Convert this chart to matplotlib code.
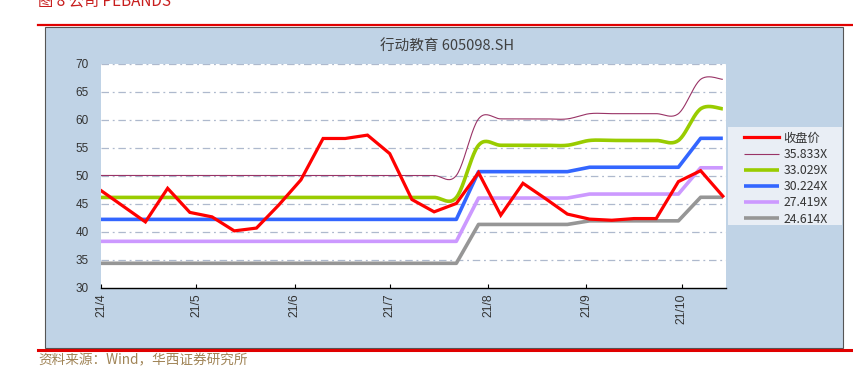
import numpy as np
import pandas as pd
import matplotlib
matplotlib.use("Agg")
import matplotlib.pyplot as plt
import matplotlib.dates as mdates
from matplotlib.patches import Rectangle
from matplotlib.lines import Line2D

# ---------------- data ----------------
start_date = "2021-04-01"
n_weeks = 29
close_price = [47.4, 44.6, 41.8, 47.8, 43.5, 42.7, 40.2, 40.7, 44.8, 49.3,
               56.7, 56.7, 57.3, 54.0, 45.8, 43.6, 45.1, 50.6, 43.0, 48.7,
               46.0, 43.2, 42.3, 42.1, 42.4, 42.4, 49.0, 50.95, 46.4]
eps = [1.398, 1.398, 1.398, 1.398, 1.398, 1.398, 1.398, 1.398, 1.398,
       1.398, 1.398, 1.398, 1.398, 1.398, 1.398, 1.398, 1.398,
       1.680, 1.680, 1.680, 1.680, 1.680,
       1.706, 1.706, 1.706, 1.706, 1.706,
       1.877, 1.877]
multiples = [35.833, 33.029, 30.224, 27.419, 24.614]
band_labels = ["35.833X", "33.029X", "30.224X", "27.419X", "24.614X"]
close_label = "收盘价"
chart_title = "行动教育 605098.SH"
fig_title = "图 8 公司 PEBANDS"
source_text = "资料来源：Wind，华西证券研究所"
tick_months = ["2021-04-01", "2021-05-01", "2021-06-01", "2021-07-01",
               "2021-08-01", "2021-09-01", "2021-10-01"]
tick_labels = ["21/4", "21/5", "21/6", "21/7", "21/8", "21/9", "21/10"]
y_ticks = [30, 35, 40, 45, 50, 55, 60, 65, 70]

# ---------------- styles ----------------
band_colors = ["#993366", "#99CC00", "#3366FF", "#CC99FF", "#969696"]
band_widths = [0.8, 2.6, 2.6, 2.6, 2.6]
band_smooth = [True, True, False, False, False]
CJK = ["Noto Sans CJK SC", "DejaVu Sans"]

dates = pd.date_range(start_date, periods=n_weeks, freq="7D")
xnum = mdates.date2num(dates.to_pydatetime())


def smooth_curve(x, y, n=24):
    P = np.column_stack([x, y]).astype(float)
    out = [P[0]]
    m = len(P)
    t = np.linspace(0, 1, n)[1:, None]
    for i in range(m - 1):
        p0 = P[i - 1] if i > 0 else P[i]
        p1 = P[i]
        p2 = P[i + 1]
        p3 = P[i + 2] if i + 2 < m else P[i + 1]
        c1 = p1 + (p2 - p0) / 6.0
        c2 = p2 - (p3 - p1) / 6.0
        seg = ((1 - t) ** 3) * p1 + 3 * ((1 - t) ** 2) * t * c1 + 3 * (1 - t) * t ** 2 * c2 + t ** 3 * p2
        out.extend(seg)
    out = np.array(out)
    return out[:, 0], out[:, 1]


W, H = 854, 373
fig = plt.figure(figsize=(W / 100, H / 100), dpi=100)
fig.patch.set_facecolor("white")

# panel background
fig.add_artist(Rectangle((45 / W, 1 - 348 / H), (843 - 45) / W, (348 - 27) / H,
                         transform=fig.transFigure, facecolor="#C0D3E6",
                         edgecolor="#555555", linewidth=0.8, zorder=-5))
# legend background
fig.add_artist(Rectangle((728 / W, 1 - 225 / H), (842 - 728) / W, (225 - 127) / H,
                         transform=fig.transFigure, facecolor="#E9EEF5",
                         edgecolor="none", zorder=-3))
# red rules
fig.add_artist(Line2D([38 / W, 1.0], [1 - 25 / H] * 2, transform=fig.transFigure,
                      color="#E00000", linewidth=1.6, zorder=-4))
fig.add_artist(Line2D([38 / W, 1.0], [1 - 349.5 / H] * 2, transform=fig.transFigure,
                      color="#E00000", linewidth=2.2, zorder=-4))

fig.text(38 / W, 1 - 6 / H, fig_title, color="#C81E1E", fontsize=11,
         family=CJK, va="baseline", ha="left")
fig.text(38 / W, 1 - 360 / H, source_text, color="#A08456", fontsize=9.8,
         family=CJK, va="center", ha="left")
fig.text(447 / W, 1 - 47 / H, chart_title, color="#404040", fontsize=10.5,
         family=CJK, va="center", ha="center")

ax = fig.add_axes([101 / W, 1 - 288 / H, (726 - 101) / W, (288 - 64) / H], zorder=2)
ax.set_facecolor("white")

handles = []
for mult, lab, col, lw, sm in zip(multiples, band_labels, band_colors, band_widths, band_smooth):
    vals = np.array(eps) * mult
    if sm:
        xs, ys = smooth_curve(xnum, vals)
    else:
        xs, ys = xnum, vals
    ln, = ax.plot(xs, ys, color=col, linewidth=lw, solid_capstyle="butt", zorder=3, label=lab)
    handles.append(ln)

red, = ax.plot(xnum, close_price, color="#FF0000", linewidth=2.3, zorder=5,
               solid_joinstyle="miter", label=close_label)

ax.set_ylim(30, 70)
ax.set_xlim(mdates.date2num(pd.Timestamp("2021-04-01")), mdates.date2num(pd.Timestamp("2021-10-15")))
ax.set_yticks(y_ticks)
ax.set_yticklabels([str(v) for v in y_ticks], family="Liberation Sans", fontsize=8.5, color="#333333")
ax.set_xticks(mdates.date2num(pd.to_datetime(tick_months).to_pydatetime()))
ax.set_xticklabels(tick_labels, rotation=90, family="Liberation Sans", fontsize=8.8, color="#333333")
ax.tick_params(axis="x", direction="in", length=3, width=0.8, pad=4)
ax.tick_params(axis="y", length=0, pad=9)

for v in y_ticks[1:]:
    ax.axhline(v, color="#AEB9CD", linewidth=0.9, linestyle=(0, (6, 3, 1.5, 3)), zorder=1)

for s in ["left", "right", "top"]:
    ax.spines[s].set_visible(False)
ax.spines["bottom"].set_color("black")
ax.spines["bottom"].set_linewidth(1.0)

leg = ax.legend([red] + handles, [close_label] + band_labels,
                loc="upper left", bbox_to_anchor=(740 / W, 1 - 128 / H),
                bbox_transform=fig.transFigure, frameon=False,
                prop={"family": CJK, "size": 8.8}, handlelength=2.9,
                handletextpad=0.35, labelspacing=0.26, borderpad=0.3,
                borderaxespad=0)
for t in leg.get_texts():
    t.set_color("#333333")

fig.savefig("out.png", dpi=100)
